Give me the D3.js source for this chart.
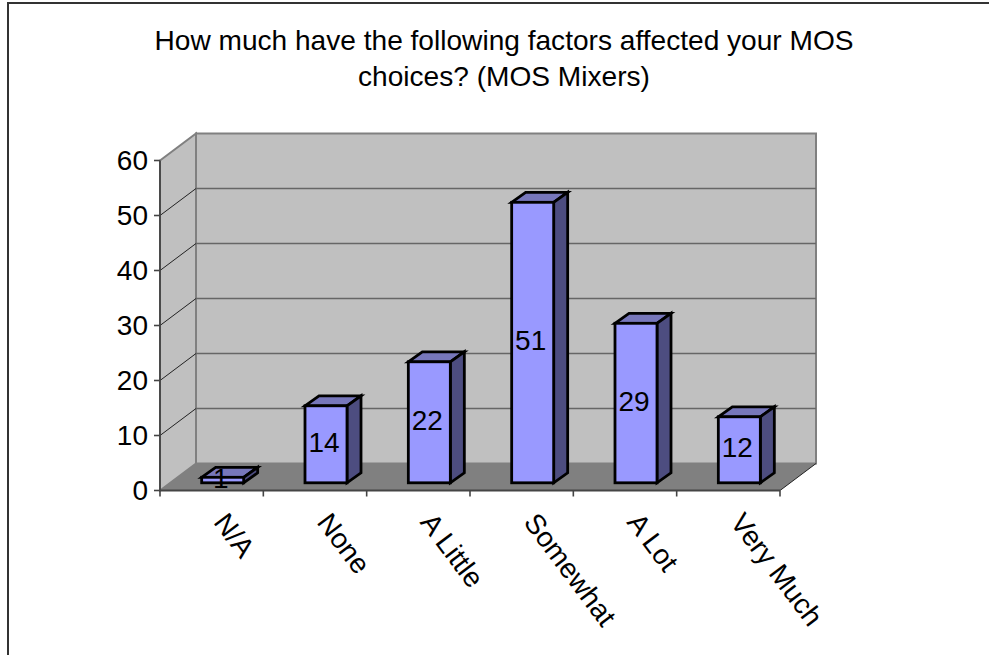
<!DOCTYPE html>
<html><head><meta charset="utf-8"><style>html,body{margin:0;background:#fff}svg{display:block}text{font-family:"Liberation Sans",Arial,sans-serif;fill:#000}</style>
<script src="https://cdn.jsdelivr.net/npm/d3@7/dist/d3.min.js"></script></head><body><script>
const categories=["N/A","None","A Little","Somewhat","A Lot","Very Much"];
const values=[1,14,22,51,29,12];
const yTicks=[0,10,20,30,40,50,60];
const titleLines=["How much have the following factors affected your MOS","choices? (MOS Mixers)"];
const W=989,H=655;
const svg=d3.select("body").append("svg").attr("width",W).attr("height",H);
const x=d3.scaleBand().domain(categories).range([160,780]);
const y=d3.scaleLinear().domain([0,60]).range([490.5,160.5]);
const DX=36,DY=-27;
const FS=28;
const pts=a=>a.map(p=>p.join(",")).join(" ");
svg.append("path").attr("d",`M8,655V3H${W}`).attr("fill","none").attr("stroke","#333").attr("stroke-width",2);
svg.selectAll("text.t").data(titleLines).join("text").attr("class","t").attr("x",504).attr("y",(d,i)=>50+i*36).attr("text-anchor","middle").attr("font-size",28.1).text(d=>d);
const x0=160,x1=780,y0=y(0),yT=y(60);
svg.append("polygon").attr("points",pts([[x0+DX,yT+DY],[x1+DX,yT+DY],[x1+DX,y0+DY],[x0+DX,y0+DY]])).attr("fill","#c0c0c0").attr("stroke","#808080").attr("stroke-width",2);
svg.append("polygon").attr("points",pts([[x0,yT],[x0+DX,yT+DY],[x0+DX,y0+DY],[x0,y0]])).attr("fill","#c0c0c0").attr("stroke","#808080").attr("stroke-width",2);
svg.append("polygon").attr("points",pts([[x0,y0],[x1,y0],[x1+DX,y0+DY],[x0+DX,y0+DY]])).attr("fill","#808080");
yTicks.filter(d=>d>0&&d<60).forEach(d=>{
 svg.append("line").attr("x1",x0).attr("y1",y(d)).attr("x2",x0+DX).attr("y2",y(d)+DY).attr("stroke","#222").attr("stroke-width",1);
 svg.append("line").attr("x1",x0+DX).attr("y1",y(d)+DY).attr("x2",x1+DX).attr("y2",y(d)+DY).attr("stroke","#666").attr("stroke-width",1.6);
});
svg.append("line").attr("x1",x0).attr("x2",x0).attr("y1",yT).attr("y2",y0).attr("stroke","#444").attr("stroke-width",1.8);
svg.append("line").attr("x1",x0).attr("x2",x1).attr("y1",y0).attr("y2",y0).attr("stroke","#444").attr("stroke-width",1.8);
svg.append("line").attr("x1",x1).attr("x2",x1+DX).attr("y1",y0).attr("y2",y0+DY).attr("stroke","#222").attr("stroke-width",1);
yTicks.forEach(d=>{
 svg.append("line").attr("x1",x0-6).attr("x2",x0).attr("y1",y(d)).attr("y2",y(d)).attr("stroke","#444").attr("stroke-width",1.6);
 svg.append("text").attr("x",x0-12).attr("y",y(d)+9).attr("text-anchor","end").attr("font-size",FS).text(d);
});
[...categories.map(c=>x(c)),x1].forEach(v=>svg.append("line").attr("x1",v).attr("x2",v).attr("y1",y0).attr("y2",y0+6).attr("stroke","#444").attr("stroke-width",1.6));
categories.forEach(c=>{
 const cx=x(c)+x.bandwidth()/2;
 svg.append("text").attr("transform",`translate(${cx+1},${y0+32}) rotate(53)`).attr("font-size",FS).text(c);
});
const bw=42,ox=11,oy=-7.7,dx=14,dy=-10;
categories.forEach((c,i)=>{
 const v=values[i],l=x(c)+x.bandwidth()/2-bw/2+ox,r=l+bw,b=y0+oy,t=y(v)+oy;
 const g=svg.append("g").attr("stroke","#000").attr("stroke-width",2.8).attr("stroke-linejoin","miter");
 g.append("polygon").attr("points",pts([[l,t],[r,t],[r+dx,t+dy],[l+dx,t+dy]])).attr("fill","#7777bb");
 g.append("polygon").attr("points",pts([[r,t],[r+dx,t+dy],[r+dx,b+dy],[r,b]])).attr("fill","#4d4d80");
 g.append("rect").attr("x",l).attr("y",t).attr("width",bw).attr("height",b-t).attr("fill","#9999ff");
 svg.append("text").attr("x",(l+r)/2-2).attr("y",(t+b)/2+7.5).attr("text-anchor","middle").attr("font-size",FS).text(v);
});
</script></body></html>
